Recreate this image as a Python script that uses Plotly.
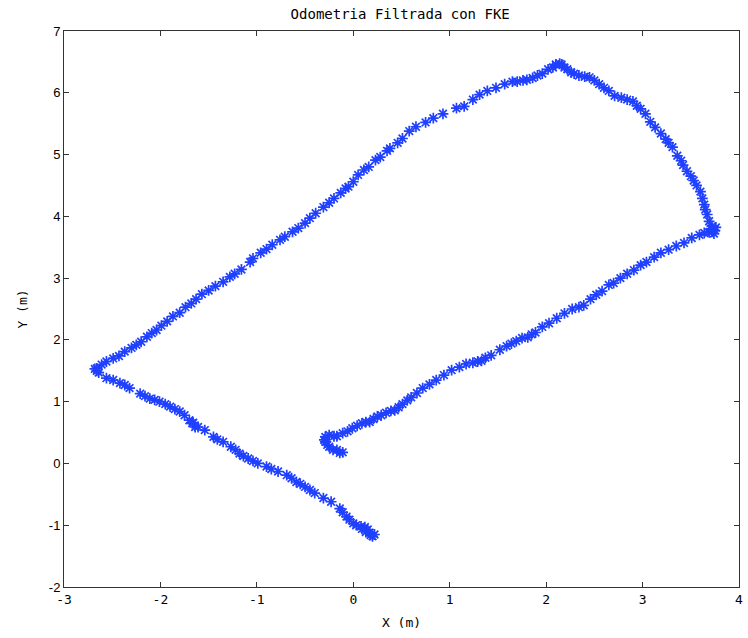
import plotly.graph_objects as go

# Trajectory (X, Y) in metres
x_vals = [
    # start cluster and lower-right leg
    -0.11, -0.14, -0.17, -0.21, -0.25, -0.27, -0.29, -0.30, -0.29, -0.25, -0.20, -0.17,
    -0.11, -0.06, -0.01, 0.04, 0.09, 0.13, 0.17, 0.21, 0.25, 0.29, 0.34, 0.39, 0.43,
    0.47, 0.51, 0.56, 0.60, 0.66, 0.72, 0.79, 0.86, 0.94, 1.02, 1.10, 1.17, 1.24, 1.29,
    1.33, 1.37, 1.43, 1.52, 1.59, 1.64, 1.69, 1.75, 1.81, 1.85, 1.89, 1.96, 2.03, 2.11,
    2.19, 2.27, 2.34, 2.39, 2.46, 2.52, 2.58, 2.65, 2.70, 2.77, 2.84, 2.91, 2.98, 3.04,
    3.12, 3.19, 3.27, 3.35, 3.43, 3.51, 3.59, 3.64, 3.69, 3.72, 3.75, 3.76, 3.71, 3.74,
    # right leg going up
    3.72, 3.69, 3.67, 3.65, 3.64, 3.62, 3.60, 3.56, 3.53, 3.50, 3.46, 3.42, 3.40, 3.36,
    3.31, 3.27, 3.24, 3.19, 3.13, 3.08, 3.03, 2.98, 2.94, 2.90, 2.84, 2.78, 2.71, 2.65,
    2.60, 2.55, 2.50, 2.45, 2.40, 2.34, 2.29, 2.26, 2.22, 2.19, 2.16, 2.14, 2.10, 2.07,
    2.02, 1.96, 1.91, 1.86, 1.80, 1.76, 1.70, 1.65,
    # upper-left leg going down
    1.57, 1.48, 1.39, 1.31, 1.24, 1.15, 1.07, 0.93, 0.83, 0.75, 0.65, 0.58, 0.51, 0.46,
    0.38, 0.35, 0.28, 0.23, 0.16, 0.11, 0.05, 0.00, -0.05, -0.08, -0.13, -0.20, -0.25,
    -0.31, -0.39, -0.45, -0.50, -0.57, -0.63, -0.71, -0.76, -0.84, -0.90, -0.96, -1.04,
    -1.07, -1.16, -1.23, -1.28, -1.35, -1.43, -1.50, -1.57, -1.63, -1.68, -1.74, -1.80,
    -1.87, -1.93, -1.99, -2.04, -2.09, -2.14, -2.20, -2.25, -2.30, -2.37, -2.43, -2.49,
    -2.56, -2.61, -2.66, -2.68, -2.66, -2.64,
    # lower-left leg going down-right
    -2.56, -2.49, -2.42, -2.37, -2.32, -2.21, -2.16, -2.11, -2.06, -2.01, -1.95, -1.90,
    -1.85, -1.80, -1.75, -1.70, -1.67, -1.64, -1.66, -1.61, -1.54, -1.45, -1.41, -1.35,
    -1.27, -1.22, -1.18, -1.14, -1.09, -1.04, -0.99, -0.90, -0.85, -0.78, -0.69, -0.64,
    -0.59, -0.55, -0.50, -0.45, -0.40, -0.31, -0.23, -0.14, -0.11, -0.07, -0.04, 0.00,
    0.03, 0.08, 0.12, 0.09, 0.13, 0.15, 0.17, 0.18, 0.20, 0.22,
]
y_vals = [
    0.18, 0.17, 0.22, 0.22, 0.27, 0.30, 0.35, 0.38, 0.43, 0.46, 0.44, 0.44,
    0.49, 0.52, 0.57, 0.61, 0.65, 0.67, 0.67, 0.72, 0.76, 0.78, 0.82, 0.85, 0.86,
    0.91, 0.96, 1.02, 1.07, 1.14, 1.22, 1.28, 1.35, 1.43, 1.51, 1.56, 1.61, 1.63, 1.65,
    1.66, 1.71, 1.75, 1.84, 1.90, 1.94, 1.98, 2.03, 2.04, 2.09, 2.12, 2.21, 2.27, 2.35,
    2.43, 2.50, 2.53, 2.56, 2.66, 2.73, 2.79, 2.89, 2.92, 3.00, 3.07, 3.13, 3.21, 3.26,
    3.34, 3.41, 3.46, 3.52, 3.57, 3.65, 3.70, 3.73, 3.74, 3.75, 3.77, 3.82, 3.80, 3.72,
    3.84, 3.92, 4.03, 4.11, 4.19, 4.29, 4.40, 4.50, 4.58, 4.65, 4.73, 4.83, 4.90, 4.98,
    5.12, 5.19, 5.25, 5.34, 5.44, 5.53, 5.66, 5.74, 5.79, 5.86, 5.89, 5.92, 5.95, 6.03,
    6.08, 6.14, 6.20, 6.25, 6.26, 6.28, 6.31, 6.33, 6.38, 6.41, 6.46, 6.47, 6.46, 6.41,
    6.38, 6.31, 6.28, 6.24, 6.21, 6.20, 6.18, 6.18,
    6.14, 6.08, 6.03, 5.97, 5.89, 5.78, 5.75, 5.66, 5.59, 5.52, 5.45, 5.38, 5.26, 5.19,
    5.10, 5.06, 4.96, 4.91, 4.80, 4.75, 4.67, 4.56, 4.48, 4.45, 4.38, 4.29, 4.22,
    4.15, 4.05, 3.97, 3.89, 3.81, 3.75, 3.67, 3.62, 3.54, 3.47, 3.41, 3.32,
    3.26, 3.14, 3.07, 3.02, 2.94, 2.87, 2.80, 2.74, 2.66, 2.59, 2.53, 2.44,
    2.38, 2.30, 2.23, 2.16, 2.11, 2.05, 1.97, 1.92, 1.87, 1.81, 1.74, 1.70,
    1.65, 1.60, 1.54, 1.53, 1.50, 1.47,
    1.38, 1.35, 1.30, 1.27, 1.22, 1.13, 1.09, 1.05, 1.03, 1.00, 0.96, 0.92,
    0.88, 0.84, 0.78, 0.70, 0.65, 0.59, 0.66, 0.59, 0.54, 0.43, 0.39, 0.35,
    0.27, 0.22, 0.16, 0.12, 0.08, 0.04, 0.00, -0.05, -0.09, -0.13, -0.19, -0.24,
    -0.30, -0.33, -0.38, -0.43, -0.48, -0.56, -0.62, -0.73, -0.79, -0.86, -0.91, -0.97,
    -1.00, -1.02, -1.03, -1.06, -1.11, -1.07, -1.12, -1.16, -1.18, -1.15,
]

title_text = "Odometria Filtrada con FKE"
x_label = "X (m)"
y_label = "Y (m)"
x_ticks = [-3, -2, -1, 0, 1, 2, 3, 4]
y_ticks = [-2, -1, 0, 1, 2, 3, 4, 5, 6, 7]

blue = "rgb(32,64,255)"
mono = "DejaVu Sans Mono"

fig = go.Figure()
fig.add_trace(go.Scatter(
    x=x_vals, y=y_vals, mode="markers",
    marker=dict(symbol="asterisk-open", size=9, color=blue,
                line=dict(color=blue, width=1.7)),
    showlegend=False,
))

axis_common = dict(
    showgrid=False, zeroline=False, showline=True, linecolor="#333333", linewidth=1,
    mirror="ticks", ticks="inside", ticklen=5, tickcolor="#333333",
)

fig.update_layout(
    width=748, height=638,
    margin=dict(l=64, r=5, t=31, b=51),
    paper_bgcolor="white", plot_bgcolor="white",
    title=dict(text=title_text, x=0.535, xanchor="center", y=0.978, yanchor="middle",
               font=dict(family=mono, size=14, color="black")),
    xaxis=dict(range=[-3, 4], tickvals=x_ticks, ticktext=[str(v) for v in x_ticks],
               tickfont=dict(family=mono, size=13, color="black"),
               title=dict(text=x_label, font=dict(family=mono, size=13, color="black"), standoff=12),
               **axis_common),
    yaxis=dict(range=[-2, 7], tickvals=y_ticks, ticktext=[str(v) for v in y_ticks],
               tickfont=dict(family="Liberation Sans", size=13, color="black"),
               title=dict(text=y_label, font=dict(family=mono, size=13, color="black"), standoff=18),
               **axis_common),
)

fig.write_html("out.html")
